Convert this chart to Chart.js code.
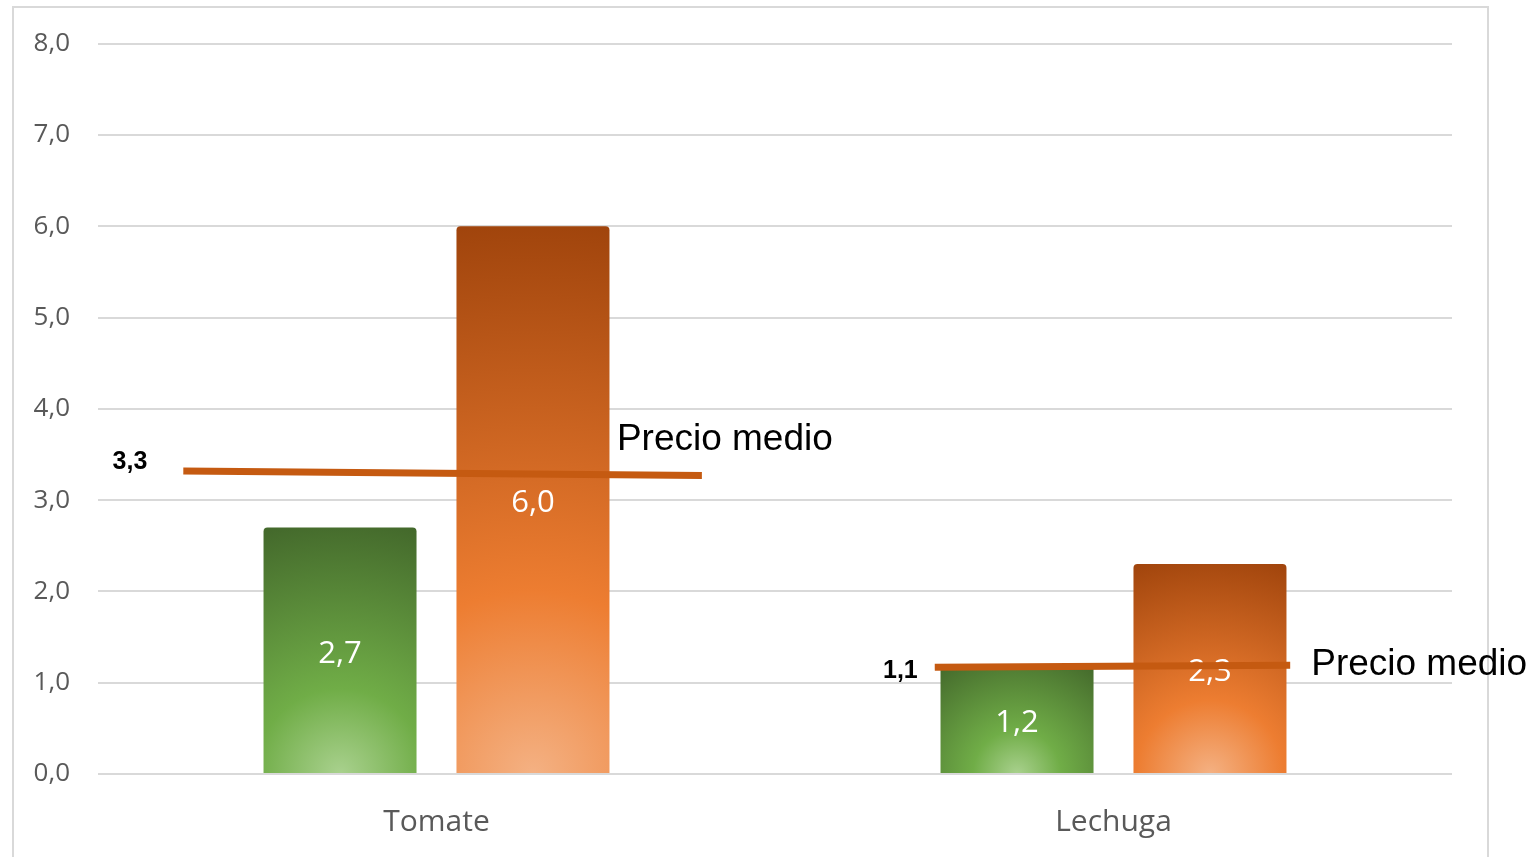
<!DOCTYPE html>
<html><head><meta charset="utf-8">
<script src="https://cdn.jsdelivr.net/npm/chart.js@4.4.1/dist/chart.umd.min.js"></script>
<style>
html,body{margin:0;padding:0;background:#fff;overflow:hidden;width:1534px;height:857px}
#frame{position:absolute;left:12px;top:6px;width:1477px;height:900px;border:2px solid #d9d9d9;box-sizing:border-box}
#wrap{position:absolute;left:0;top:0;width:1534px;height:857px}
</style></head><body>
<div id="frame"></div>
<div id="wrap"><canvas id="c" width="1534" height="857"></canvas></div>
<script>
// ---- data ----
const categories = ['Tomate', 'Lechuga'];
const greenValues = [2.7, 1.2];
const orangeValues = [6.0, 2.3];
const yTickValues = [0, 1, 2, 3, 4, 5, 6, 7, 8];
// "Precio medio" reference lines: x as position within the category (in category widths, 0 = centre)
const avgTomateX = [-0.374, 0.392];
const avgTomateY = [3.32, 3.27];
const avgLechugaX = [-0.264, 0.261];
const avgLechugaY = [1.17, 1.19];
const avgValueLabels = ['3,3', '1,1'];
const avgName = 'Precio medio';

const CAT_PCT = 0.57, BAR_PCT = 0.793;
const fmt = v => v.toFixed(1).replace('.', ',');

const avgLines = [
  { cat: 0, xs: avgTomateX, ys: avgTomateY, label: avgValueLabels[0], lblOff: [-36, -9], nameOff: [-85, -36] },
  { cat: 1, xs: avgLechugaX, ys: avgLechugaY, label: avgValueLabels[1], lblOff: [-17, 4], nameOff: [21, -1] }
];

function barGradient(ctx, colors) {
  const chart = ctx.chart;
  if (!chart.chartArea || ctx.type !== 'data') return colors[1];
  const xs = chart.scales.x, ys = chart.scales.y;
  const catW = (xs.right - xs.left) / categories.length;
  const slot = catW * CAT_PCT / 2;
  const cx = xs.getPixelForValue(ctx.dataIndex) + (ctx.datasetIndex - 0.5) * slot;
  const w = slot * BAR_PCT;
  const top = ys.getPixelForValue(ctx.raw), base = ys.getPixelForValue(0);
  const h = base - top;
  const r = Math.sqrt(h * h + (w / 2) * (w / 2));
  const g = chart.ctx.createRadialGradient(cx, base, 0, cx, base, r);
  g.addColorStop(0, colors[2]);
  g.addColorStop(0.33, colors[1]);
  g.addColorStop(1, colors[0]);
  return g;
}

const overlayPlugin = {
  id: 'overlay',
  afterDatasetsDraw(chart) {
    const c = chart.ctx;
    const xs = chart.scales.x, ys = chart.scales.y;
    c.save();
    // bar value labels
    c.font = '31px "Open Sans"';
    c.fillStyle = '#ffffff';
    c.textAlign = 'center';
    c.textBaseline = 'middle';
    chart.data.datasets.forEach((ds, di) => {
      chart.getDatasetMeta(di).data.forEach((el, i) => {
        c.fillText(fmt(ds.data[i]), el.x, (el.y + el.base) / 2 + 4);
      });
    });
    // "Precio medio" lines
    const catW = (xs.right - xs.left) / categories.length;
    avgLines.forEach(L => {
      const cx = xs.getPixelForValue(L.cat);
      const pts = L.xs.map((fx, i) => [cx + fx * catW, ys.getPixelForValue(L.ys[i])]);
      c.beginPath();
      c.moveTo(pts[0][0], pts[0][1]);
      for (let i = 1; i < pts.length; i++) c.lineTo(pts[i][0], pts[i][1]);
      c.strokeStyle = '#C55A11';
      c.lineWidth = 7;
      c.lineCap = 'butt';
      c.stroke();
      const p0 = pts[0], p1 = pts[pts.length - 1];
      c.fillStyle = '#000000';
      c.textBaseline = 'middle';
      c.font = 'bold 25px "Liberation Sans"';
      c.textAlign = 'right';
      c.fillText(L.label, p0[0] + L.lblOff[0], p0[1] + L.lblOff[1]);
      c.font = '37px "Liberation Sans"';
      c.textAlign = 'left';
      c.fillText(avgName, p1[0] + L.nameOff[0], p1[1] + L.nameOff[1]);
    });
    c.restore();
  }
};

new Chart(document.getElementById('c'), {
  type: 'bar',
  data: {
    labels: categories,
    datasets: [
      { label: 'Serie 1', data: greenValues,
        backgroundColor: ctx => barGradient(ctx, ['#43682B', '#70AD47', '#A9D18E']),
        borderRadius: 4, borderSkipped: 'start',
        categoryPercentage: CAT_PCT, barPercentage: BAR_PCT },
      { label: 'Serie 2', data: orangeValues,
        backgroundColor: ctx => barGradient(ctx, ['#A0440C', '#ED7D31', '#F4B183']),
        borderRadius: 4, borderSkipped: 'start',
        categoryPercentage: CAT_PCT, barPercentage: BAR_PCT }
    ]
  },
  options: {
    responsive: false,
    animation: false,
    layout: { padding: { left: 0, right: 82, top: 40, bottom: 0 } },
    plugins: { legend: { display: false }, tooltip: { enabled: false } },
    scales: {
      x: {
        type: 'category', offset: true,
        grid: { display: false }, border: { display: false },
        ticks: { color: '#595959', font: { family: 'Open Sans', size: 30 }, padding: 22 },
        afterFit: s => { s.height = 83; }
      },
      y: {
        min: 0, max: 8,
        afterBuildTicks: s => { s.ticks = yTickValues.map(v => ({ value: v })); },
        grid: { color: '#d9d9d9', lineWidth: 2, drawTicks: false },
        border: { display: false },
        ticks: { color: '#595959', font: { family: 'Open Sans', size: 26 }, padding: 28,
                 callback: v => fmt(v) },
        afterFit: s => { s.width = 98; }
      }
    }
  },
  plugins: [overlayPlugin]
});
</script>
</body></html>
